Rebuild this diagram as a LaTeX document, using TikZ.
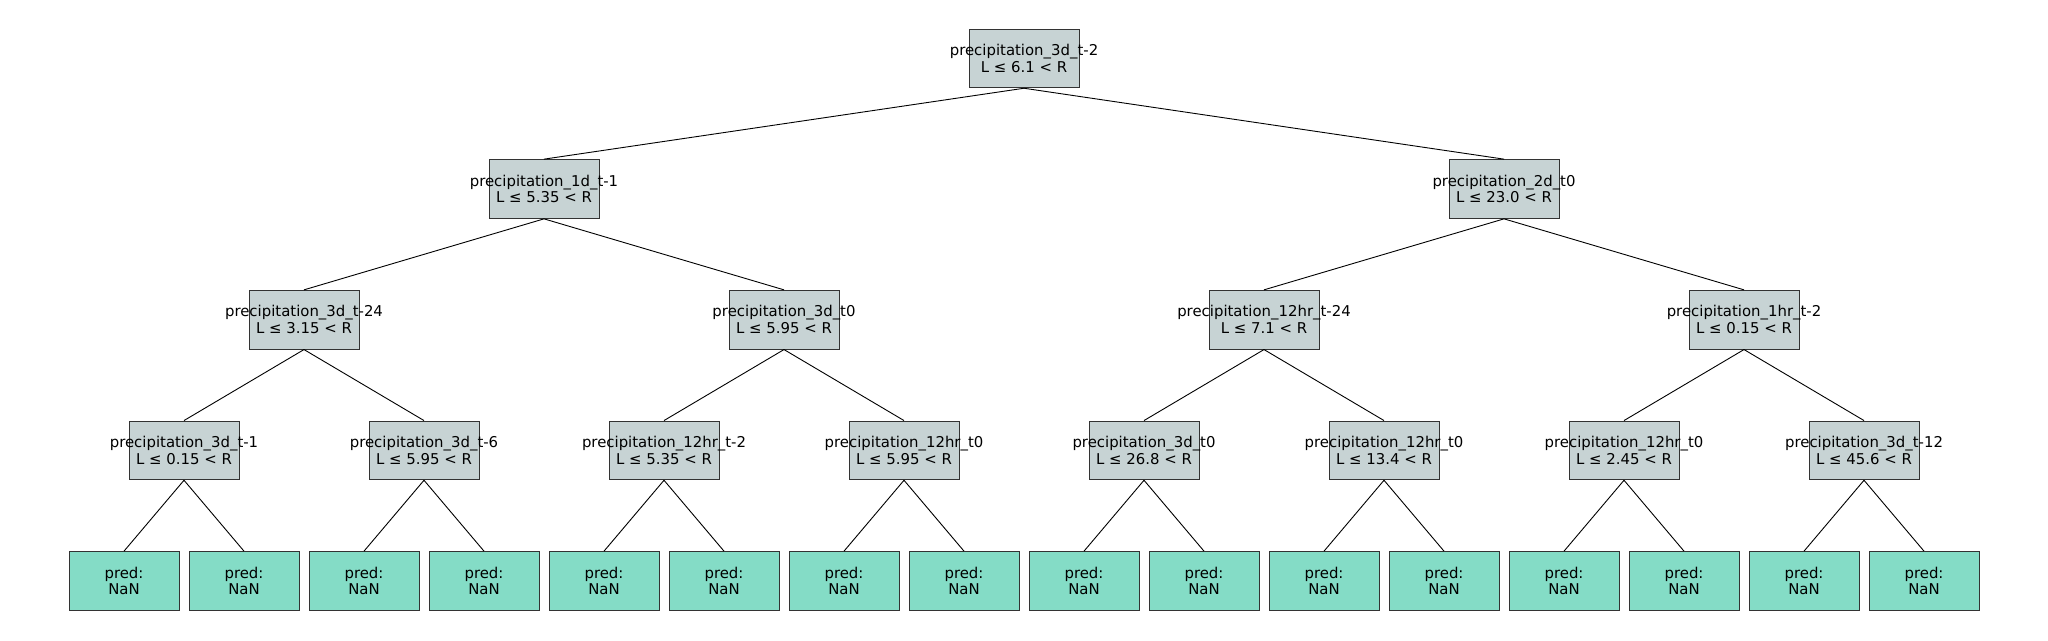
\documentclass[tikz,border=0pt]{standalone}
\usepackage{fontspec}
\setmainfont{DejaVu Sans}
\usetikzlibrary{positioning}
\definecolor{split gray}{HTML}{C7D3D4}
\definecolor{leaf teal}{HTML}{84DCC6}
% text that may stick out of its box on both sides
\newcommand{\overhang}[1]{\makebox[0pt]{#1}}
\tikzset{
    % Boxes
    box/.style={draw=black!80, line width=1pt, inner sep=0pt, minimum width=110pt, minimum height=58.7pt, align=center, font=\fontsize{14.9}{16.8}\selectfont},
    split/.style={box, fill=split gray},
    leaf/.style={box, fill=leaf teal},
    %
    % Edges
    edge/.style={black, line width=0.9pt}
}

\begin{document}
\begin{tikzpicture}[x=1pt,y=-1pt]
    \useasboundingbox (0,0) rectangle (2048,640);

    % splits, numbered as in a heap
    \node[split] (s1) at (1024,58.4) {\overhang{precipitation\_3d\_t-2}\\\overhang{L ≤ 6.1 < R}};

    \node[split] (s2) at (544,189) {\overhang{precipitation\_1d\_t-1}\\\overhang{L ≤ 5.35 < R}};
    \node[split] (s3) at (1504,189) {\overhang{precipitation\_2d\_t0}\\\overhang{L ≤ 23.0 < R}};

    \node[split] (s4) at (304,319.7) {\overhang{precipitation\_3d\_t-24}\\\overhang{L ≤ 3.15 < R}};
    \node[split] (s5) at (784,319.7) {\overhang{precipitation\_3d\_t0}\\\overhang{L ≤ 5.95 < R}};
    \node[split] (s6) at (1264,319.7) {\overhang{precipitation\_12hr\_t-24}\\\overhang{L ≤ 7.1 < R}};
    \node[split] (s7) at (1744,319.7) {\overhang{precipitation\_1hr\_t-2}\\\overhang{L ≤ 0.15 < R}};

    \node[split] (s8) at (184,450.4) {\overhang{precipitation\_3d\_t-1}\\\overhang{L ≤ 0.15 < R}};
    \node[split] (s9) at (424,450.4) {\overhang{precipitation\_3d\_t-6}\\\overhang{L ≤ 5.95 < R}};
    \node[split] (s10) at (664,450.4) {\overhang{precipitation\_12hr\_t-2}\\\overhang{L ≤ 5.35 < R}};
    \node[split] (s11) at (904,450.4) {\overhang{precipitation\_12hr\_t0}\\\overhang{L ≤ 5.95 < R}};
    \node[split] (s12) at (1144,450.4) {\overhang{precipitation\_3d\_t0}\\\overhang{L ≤ 26.8 < R}};
    \node[split] (s13) at (1384,450.4) {\overhang{precipitation\_12hr\_t0}\\\overhang{L ≤ 13.4 < R}};
    \node[split] (s14) at (1624,450.4) {\overhang{precipitation\_12hr\_t0}\\\overhang{L ≤ 2.45 < R}};
    \node[split] (s15) at (1864,450.4) {\overhang{precipitation\_3d\_t-12}\\\overhang{L ≤ 45.6 < R}};

    % leaves
    \foreach \j in {0,...,15} {
        \pgfmathtruncatemacro{\k}{\j+16}
        \node[leaf] (s\k) at (124+120*\j,581) {pred:\\NaN};
    }

    % edges, parent of s_i is s_(i/2)
    \foreach \i in {2,...,31} {
        \pgfmathtruncatemacro{\p}{floor(\i/2)}
        \draw[edge] (s\p.south) -- (s\i.north);
    }
\end{tikzpicture}
\end{document}
